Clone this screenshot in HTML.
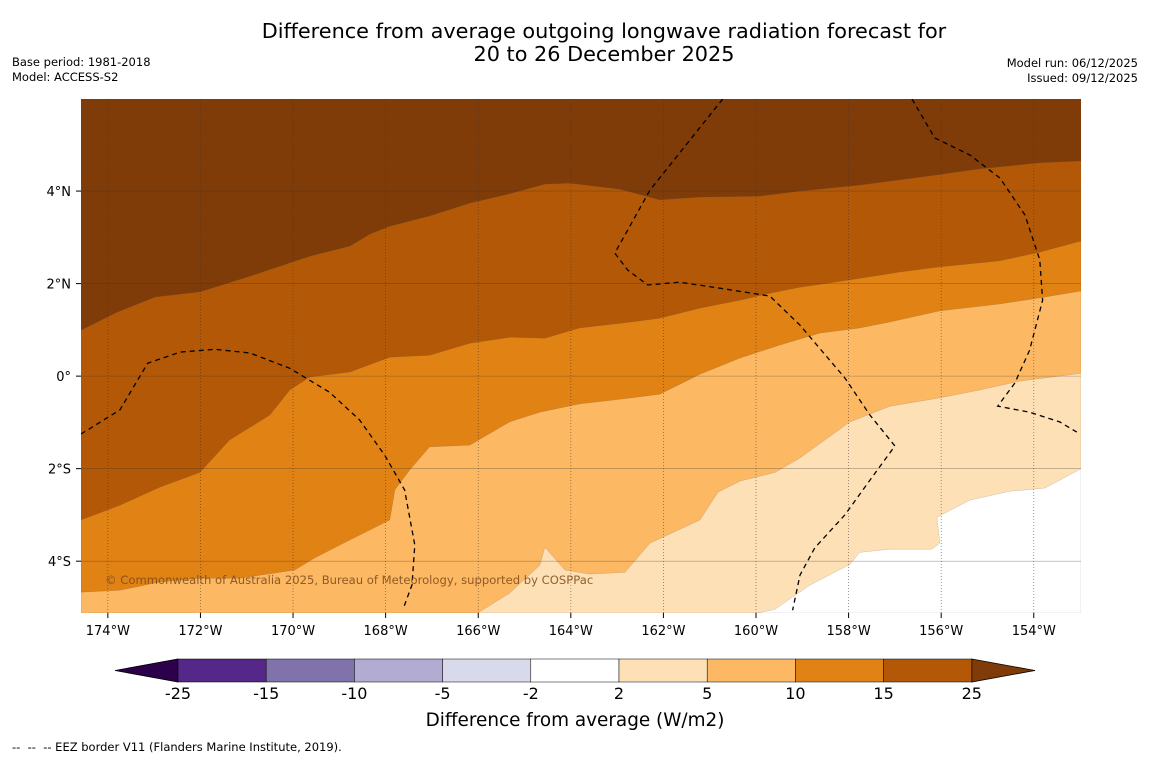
<!DOCTYPE html>
<html><head><meta charset="utf-8"><style>
body{margin:0;background:#fff;font-family:"DejaVu Sans","Liberation Sans",sans-serif;}
svg{display:block;font-family:"DejaVu Sans","Liberation Sans",sans-serif;}
</style></head><body>
<svg width="1150" height="758" viewBox="0 0 1150 758">
<rect width="1150" height="758" fill="#fff"/>
<text x="604" y="38" text-anchor="middle" font-size="20.8">Difference from average outgoing longwave radiation forecast for</text>
<text x="604" y="61" text-anchor="middle" font-size="20.8">20 to 26 December 2025</text>
<text x="12" y="66" font-size="11.5">Base period: 1981-2018</text>
<text x="12" y="81" font-size="11.5">Model: ACCESS-S2</text>
<text x="1138" y="67" font-size="11.5" text-anchor="end">Model run: 06/12/2025</text>
<text x="1138" y="82" font-size="11.5" text-anchor="end">Issued: 09/12/2025</text>
<defs><clipPath id="mc"><rect x="81" y="99" width="1000" height="514"/></clipPath></defs>
<g id="map" clip-path="url(#mc)"></g>
<g id="axes"></g>
<g id="cbar"></g>
<text x="575" y="726" text-anchor="middle" font-size="18.4">Difference from average (W/m2)</text>
<text x="12" y="751" font-size="11.5" xml:space="preserve">--  --  -- EEZ border V11 (Flanders Marine Institute, 2019).</text>
</svg>
<script>
const lonMin=-174.58, lonMax=-152.98, latMin=-5.12, latMax=5.99;
const X0=81,X1=1081,Y0=99,Y1=613;
function x(lon){return X0+(lon-lonMin)/(lonMax-lonMin)*(X1-X0);}
function y(lat){return Y0+(latMax-lat)/(latMax-latMin)*(Y1-Y0);}
const lonTicks=[-174,-172,-170,-168,-166,-164,-162,-160,-158,-156,-154];
const lonTickLabels=["174°W","172°W","170°W","168°W","166°W","164°W","162°W","160°W","158°W","156°W","154°W"];
const latTicks=[4,2,0,-2,-4];
const latTickLabels=["4°N","2°N","0°","2°S","4°S"];
const levelColors=["#7f3b08","#b35806","#e08214","#fdb863","#fee0b6","#ffffff"];
const c25Lon=[-174.58,-173.85,-172.98,-172.01,-170.93,-169.64,-168.77,-168.34,-167.91,-167.05,-166.18,-165.32,-164.56,-164.02,-162.94,-162.08,-161.21,-159.92,-159.05,-157.76,-156.46,-155.17,-153.87,-152.98];
const c25Lat=[0.99,1.36,1.71,1.82,2.16,2.59,2.81,3.07,3.24,3.46,3.74,3.94,4.15,4.17,4.04,3.81,3.87,3.89,4.0,4.13,4.30,4.48,4.61,4.65];
const c15Lon=[-174.58,-173.74,-172.88,-172.01,-171.37,-170.50,-170.07,-169.64,-168.77,-167.91,-167.05,-166.18,-165.32,-164.56,-163.81,-162.94,-162.08,-161.21,-160.35,-159.70,-159.05,-157.97,-156.89,-156.03,-154.74,-153.87,-152.98];
const c15Lat=[-3.11,-2.79,-2.40,-2.08,-1.38,-0.84,-0.30,-0.02,0.09,0.41,0.45,0.71,0.84,0.82,1.04,1.14,1.25,1.47,1.64,1.79,1.92,2.08,2.25,2.36,2.49,2.68,2.92];
const c10Lon=[-174.58,-173.74,-172.88,-172.01,-171.15,-169.96,-169.53,-168.77,-167.91,-167.80,-167.48,-167.05,-166.18,-165.32,-164.67,-163.81,-162.94,-162.08,-161.21,-160.35,-159.49,-158.62,-157.76,-157.11,-156.03,-154.74,-153.87,-152.98];
const c10Lat=[-4.67,-4.63,-4.45,-4.37,-4.37,-4.19,-3.93,-3.54,-3.11,-2.46,-2.03,-1.53,-1.49,-0.99,-0.78,-0.60,-0.50,-0.39,0.04,0.39,0.67,0.93,1.04,1.17,1.41,1.56,1.69,1.84];
const c5Lon=[-166.01,-165.32,-164.67,-164.56,-164.13,-163.59,-162.83,-162.29,-161.21,-160.82,-160.35,-159.59,-159.05,-157.97,-157.11,-156.03,-155.17,-154.31,-152.98];
const c5Lat=[-5.12,-4.69,-4.09,-3.70,-4.19,-4.28,-4.24,-3.61,-3.11,-2.51,-2.27,-2.08,-1.77,-0.99,-0.65,-0.47,-0.30,-0.11,0.06];
const c2Lon=[-159.96,-159.59,-158.84,-157.97,-157.76,-157.11,-156.20,-156.03,-156.09,-155.38,-154.52,-153.76,-152.98];
const c2Lat=[-5.12,-5.04,-4.52,-4.07,-3.81,-3.74,-3.74,-3.61,-3.05,-2.68,-2.49,-2.42,-2.00];
const eezALon=[-174.58,-173.74,-173.14,-172.44,-171.69,-170.93,-170.07,-169.21,-168.56,-168.02,-167.59,-167.37,-167.43,-167.61];
const eezALat=[-1.25,-0.73,0.28,0.52,0.58,0.50,0.17,-0.35,-0.95,-1.71,-2.46,-3.65,-4.51,-5.0];
const eezBLon=[-160.72,-161.43,-162.29,-163.05,-162.77,-162.34,-161.65,-160.78,-159.70,-159.05,-158.08,-157.54,-157.00,-157.54,-158.08,-158.73,-159.05,-159.21];
const eezBLat=[5.99,5.10,4.02,2.66,2.29,1.97,2.03,1.90,1.73,1.10,-0.04,-0.84,-1.51,-2.25,-3.00,-3.71,-4.30,-5.06];
const eezCLon=[-156.63,-156.14,-155.38,-154.73,-154.19,-153.87,-153.81,-154.09,-154.41,-154.78,-154.09,-153.44,-153.07];
const eezCLat=[5.99,5.15,4.78,4.28,3.48,2.51,1.64,0.56,-0.15,-0.65,-0.78,-0.99,-1.21];
const cbLevels=["-25","-15","-10","-5","-2","2","5","10","15","25"];
const cbColors=["#542788","#8073ac","#b2abd2","#d8daeb","#ffffff","#fee0b6","#fdb863","#e08214","#b35806"];
const NS="http://www.w3.org/2000/svg";
function mk(tag,attrs,parent){const e=document.createElementNS(NS,tag);for(const k in attrs)e.setAttribute(k,attrs[k]);parent.appendChild(e);return e;}
function pts(lons,lats){return lons.map((l,i)=>x(l).toFixed(1)+","+y(lats[i]).toFixed(1));}
const map=document.getElementById('map');
let r=mk('rect',{x:X0,y:Y0,width:X1-X0,height:Y1-Y0,fill:levelColors[0]},map);


function below(lons,lats,color,name){
  const p=pts(lons,lats);
  p.push(x(lonMax)+","+y(latMin));
  if(!(lons[0]>lonMin+0.01)) p.push(x(lonMin)+","+y(latMin));
  const e=mk('polygon',{points:p.join(" "),fill:color,stroke:"#555",'stroke-width':0.3,'stroke-opacity':0.5},map);
  
  
}
below(c25Lon,c25Lat,levelColors[1],'region-15-25');
below(c15Lon,c15Lat,levelColors[2],'region-10-15');
below(c10Lon,c10Lat,levelColors[3],'region-5-10');
below(c5Lon,c5Lat,levelColors[4],'region-2-5');
below(c2Lon,c2Lat,levelColors[5],'region-below-2');
lonTicks.forEach(l=>{
  const e=mk('line',{x1:x(l),x2:x(l),y1:Y0,y2:Y1,stroke:"#333",'stroke-width':0.7,'stroke-dasharray':"1,2",'stroke-opacity':0.7},map);
  
  
});
latTicks.forEach(l=>{
  const e=mk('line',{x1:X0,x2:X1,y1:y(l),y2:y(l),stroke:"#333",'stroke-width':0.6,'stroke-opacity':0.45},map);
  
  
});
[[eezALon,eezALat],[eezBLon,eezBLat],[eezCLon,eezCLat]].forEach((d,i)=>{
  const e=mk('polyline',{points:pts(d[0],d[1]).join(" "),fill:"none",stroke:"#000",'stroke-width':1.3,'stroke-dasharray':"5,4"},map);
  
  
});
let cp=mk('text',{x:105,y:584,'font-size':11.6,fill:"#7a4a1a",'fill-opacity':0.85},map);
cp.textContent="© Commonwealth of Australia 2025, Bureau of Meteorology, supported by COSPPac";


const axes=document.getElementById('axes');
lonTicks.forEach((l,i)=>{
  const t=mk('line',{x1:x(l),x2:x(l),y1:Y1,y2:Y1+5,stroke:"#000"},axes);
  
  
  const e=mk('text',{x:x(l),y:Y1+22,'font-size':13,'text-anchor':'middle'},axes);
  e.textContent=lonTickLabels[i];
  
  
});
latTicks.forEach((l,i)=>{
  const t=mk('line',{x1:X0-5,x2:X0,y1:y(l),y2:y(l),stroke:"#000"},axes);
  
  
  const e=mk('text',{x:X0-10,y:y(l)+5,'font-size':13,'text-anchor':'end'},axes);
  e.textContent=latTickLabels[i];
  
  
});
const cb=document.getElementById('cbar');
const cbX0=178,cbW=88.2,cbY=659,cbH=23;
let tl=mk('polygon',{points:`115,670.5 ${cbX0},${cbY} ${cbX0},${cbY+cbH}`,fill:"#2d004b",stroke:"#000",'stroke-width':0.8},cb);


const cbEnd=cbX0+cbW*cbColors.length;
let tr=mk('polygon',{points:`${cbEnd},${cbY} 1035,670.5 ${cbEnd},${cbY+cbH}`,fill:"#7f3b08",stroke:"#000",'stroke-width':0.8},cb);


cbColors.forEach((c,i)=>{
  const e=mk('rect',{x:cbX0+i*cbW,y:cbY,width:cbW,height:cbH,fill:c,stroke:"#000",'stroke-width':0.5},cb);
  
  
});
cbLevels.forEach((s,i)=>{
  const e=mk('text',{x:cbX0+i*cbW,y:699,'font-size':16,'text-anchor':'middle'},cb);
  e.textContent=s;
  
  
});
</script>
</body></html>
